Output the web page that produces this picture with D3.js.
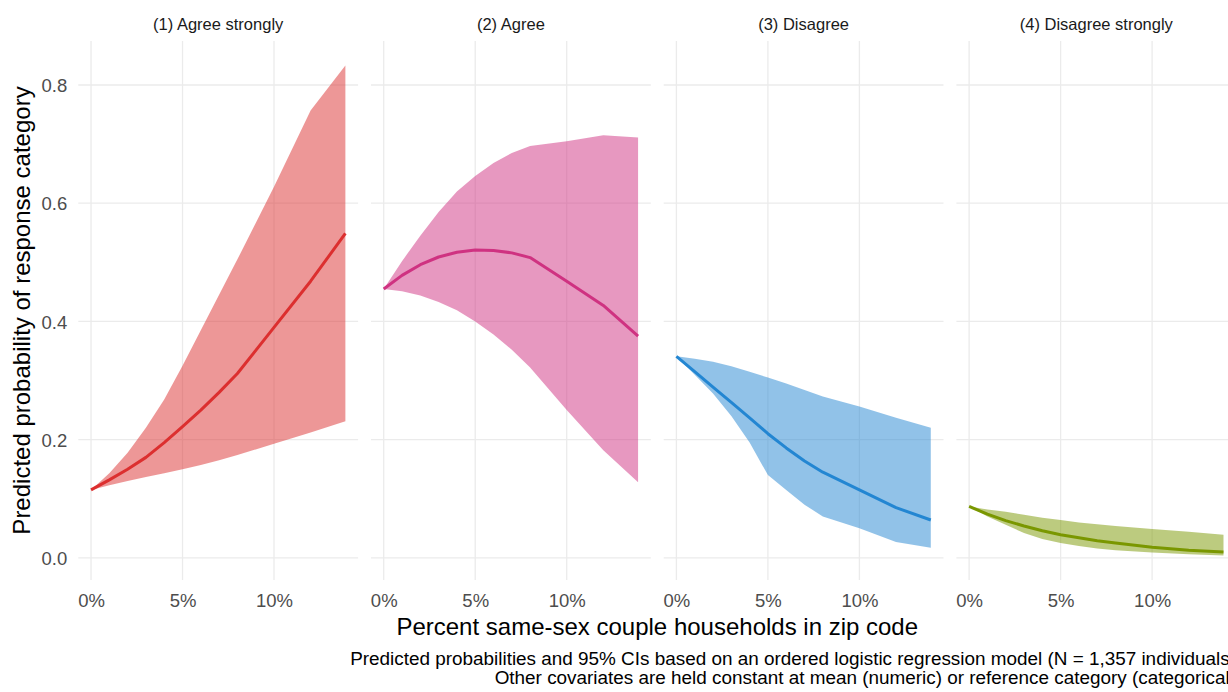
<!DOCTYPE html>
<html>
<head>
<meta charset="utf-8">
<script src="https://cdn.jsdelivr.net/npm/d3@7"></script>
<style>
  html, body { margin: 0; padding: 0; background: #fff; overflow: hidden; }
  svg { display: block; font-family: "Liberation Sans", Arial, sans-serif; }
</style>
</head>
<body>
<svg id="chart" width="1228" height="692"></svg>
<script>
// ---------------- data ----------------
const categories = ["(1) Agree strongly", "(2) Agree", "(3) Disagree", "(4) Disagree strongly"];
const colors = ["#DC2F2F", "#CF3281", "#2386D2", "#7A9700"];
const pctValues = [0, 1, 2, 3, 4, 5, 6, 7, 8, 10, 12, 13.9];

const fitAgreeStrongly   = [0.115, 0.132, 0.150, 0.170, 0.195, 0.222, 0.250, 0.280, 0.312, 0.390, 0.468, 0.549];
const lowerAgreeStrongly = [0.115, 0.123, 0.130, 0.137, 0.143, 0.150, 0.157, 0.165, 0.174, 0.193, 0.212, 0.231];
const upperAgreeStrongly = [0.115, 0.143, 0.178, 0.220, 0.268, 0.325, 0.385, 0.445, 0.505, 0.628, 0.757, 0.833];

const fitAgree   = [0.455, 0.478, 0.496, 0.509, 0.517, 0.521, 0.520, 0.516, 0.508, 0.468, 0.427, 0.375];
const lowerAgree = [0.455, 0.451, 0.444, 0.433, 0.419, 0.400, 0.378, 0.352, 0.322, 0.250, 0.182, 0.128];
const upperAgree = [0.455, 0.502, 0.545, 0.585, 0.620, 0.646, 0.668, 0.685, 0.697, 0.705, 0.715, 0.711];

const fitDisagree   = [0.341, 0.315, 0.289, 0.263, 0.237, 0.210, 0.186, 0.164, 0.145, 0.115, 0.085, 0.064];
const lowerDisagree = [0.341, 0.310, 0.278, 0.240, 0.195, 0.140, 0.115, 0.090, 0.070, 0.050, 0.027, 0.017];
const upperDisagree = [0.341, 0.337, 0.332, 0.324, 0.315, 0.305, 0.295, 0.284, 0.273, 0.256, 0.237, 0.220];

const fitDisagreeStrongly   = [0.087, 0.074, 0.063, 0.054, 0.046, 0.039, 0.034, 0.029, 0.025, 0.018, 0.013, 0.010];
const lowerDisagreeStrongly = [0.087, 0.070, 0.056, 0.042, 0.032, 0.025, 0.020, 0.016, 0.013, 0.009, 0.006, 0.004];
const upperDisagreeStrongly = [0.087, 0.082, 0.078, 0.073, 0.068, 0.064, 0.060, 0.057, 0.054, 0.049, 0.044, 0.039];

const xTicks = [0, 5, 10];
const yTicks = [0, 0.2, 0.4, 0.6, 0.8];

const xTitle = "Percent same-sex couple households in zip code";
const yTitle = "Predicted probability of response category";
const captionLines = [
  "Predicted probabilities and 95% CIs based on an ordered logistic regression model (N = 1,357 individuals).",
  "Other covariates are held constant at mean (numeric) or reference category (categorical)."
];

// ---------------- build ----------------
const seriesTable = [
  [fitAgreeStrongly, lowerAgreeStrongly, upperAgreeStrongly],
  [fitAgree, lowerAgree, upperAgree],
  [fitDisagree, lowerDisagree, upperDisagree],
  [fitDisagreeStrongly, lowerDisagreeStrongly, upperDisagreeStrongly]
].map(([fit, lo, hi], i) => ({
  name: categories[i],
  color: colors[i],
  rows: pctValues.map((p, j) => ({ x: p, fit: fit[j], lo: lo[j], hi: hi[j] }))
}));

const svg = d3.select("#chart");
const panelLeft0 = 78.3, panelW = 279.8, panelStep = 292.7;
const panelTop = 41, panelBottom = 580;

const xExt = d3.extent(pctValues);
const xR = xExt[1] - xExt[0];
const x = d3.scaleLinear().domain([xExt[0] - 0.05 * xR, xExt[1] + 0.05 * xR]).range([0, panelW]);

const allY = seriesTable.flatMap(s => s.rows.flatMap(r => [r.lo, r.hi, r.fit]));
const yExt = d3.extent(allY);
const yR = yExt[1] - yExt[0];
const y = d3.scaleLinear().domain([yExt[0] - 0.05 * yR, yExt[1] + 0.05 * yR]).range([panelBottom, panelTop]);

const grid = "#EBEBEB";

seriesTable.forEach((s, i) => {
  const g = svg.append("g").attr("transform", `translate(${panelLeft0 + i * panelStep},0)`);

  // grid
  g.selectAll(".hg").data(yTicks).join("line")
    .attr("x1", 0).attr("x2", panelW)
    .attr("y1", d => y(d)).attr("y2", d => y(d))
    .attr("stroke", grid).attr("stroke-width", 1.3);
  g.selectAll(".vg").data(xTicks).join("line")
    .attr("x1", d => x(d)).attr("x2", d => x(d))
    .attr("y1", panelTop).attr("y2", panelBottom)
    .attr("stroke", grid).attr("stroke-width", 1.3);

  // ribbon
  g.append("path")
    .datum(s.rows)
    .attr("d", d3.area().x(d => x(d.x)).y0(d => y(d.lo)).y1(d => y(d.hi)))
    .attr("fill", s.color).attr("fill-opacity", 0.5);

  // line
  g.append("path")
    .datum(s.rows)
    .attr("d", d3.line().x(d => x(d.x)).y(d => y(d.fit)))
    .attr("fill", "none").attr("stroke", s.color).attr("stroke-width", 3)
    .attr("stroke-linejoin", "round").attr("stroke-linecap", "butt");

  // strip
  g.append("text")
    .attr("x", panelW / 2).attr("y", 30)
    .attr("text-anchor", "middle")
    .attr("font-size", 16.5).attr("fill", "#1A1A1A")
    .text(s.name);

  // x axis
  const xa = g.append("g").attr("transform", `translate(0,${panelBottom})`)
    .call(d3.axisBottom(x).tickValues(xTicks).tickFormat(d => d + "%").tickSize(0).tickPadding(0));
  xa.select(".domain").remove();
  xa.selectAll("text").attr("y", 27).attr("dy", 0)
    .attr("font-size", 18.5).attr("fill", "#4D4D4D").attr("font-family", "Liberation Sans, Arial, sans-serif");

  if (i === 0) {
    const ya = g.append("g")
      .call(d3.axisLeft(y).tickValues(yTicks).tickFormat(d3.format(".1f")).tickSize(0).tickPadding(11));
    ya.select(".domain").remove();
    ya.selectAll("text").attr("dy", "0.36em")
      .attr("font-size", 18.5).attr("fill", "#4D4D4D").attr("font-family", "Liberation Sans, Arial, sans-serif");
  }
});

const plotRight = panelLeft0 + 3 * panelStep + panelW;
const plotCenter = (panelLeft0 + plotRight) / 2;

svg.append("text")
  .attr("x", plotCenter).attr("y", 635)
  .attr("text-anchor", "middle").attr("font-size", 24).attr("fill", "#000")
  .text(xTitle);

svg.append("text")
  .attr("transform", `translate(30,${(panelTop + panelBottom) / 2}) rotate(-90)`)
  .attr("text-anchor", "middle").attr("font-size", 24).attr("fill", "#000")
  .text(yTitle);

captionLines.forEach((t, k) => {
  svg.append("text")
    .attr("x", plotRight + 5).attr("y", 665 + k * 19)
    .attr("text-anchor", "end").attr("font-size", 18.9).attr("fill", "#000")
    .text(t);
});
</script>
</body>
</html>
